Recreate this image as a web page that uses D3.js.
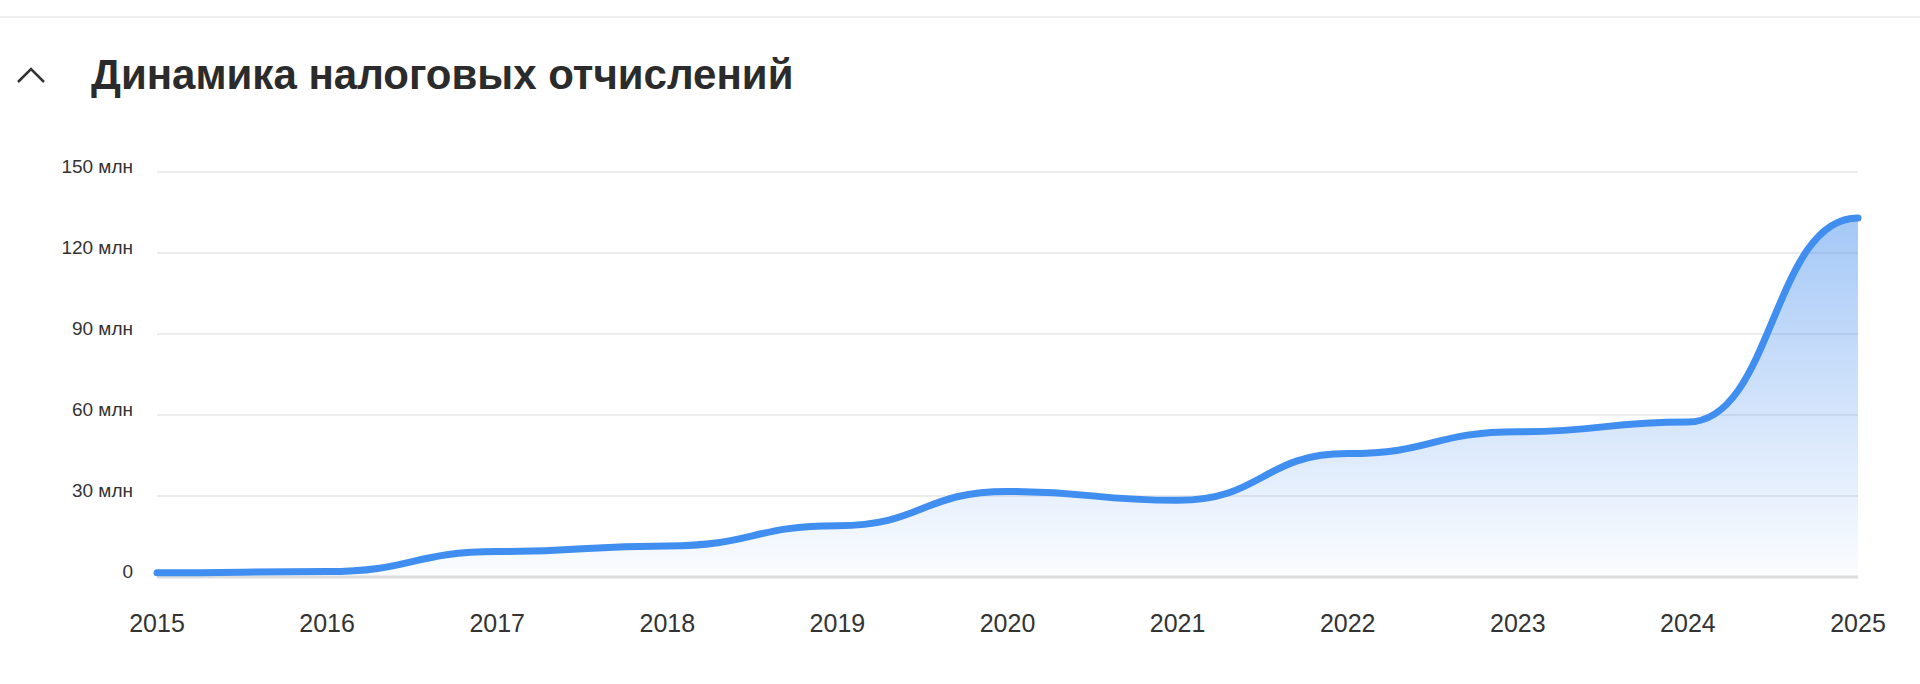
<!DOCTYPE html>
<html><head><meta charset="utf-8">
<script src="https://cdn.jsdelivr.net/npm/d3@7"></script>
<style>body{margin:0;background:#fff;font-family:"Liberation Sans",Arial,sans-serif}</style>
</head><body><svg id="c" width="1920" height="684"></svg>
<script>
const years = [2015,2016,2017,2018,2019,2020,2021,2022,2023,2024,2025];
const values = [1.6,2,9.4,11.5,19,31.7,28.4,45.7,53.8,57.4,133];
const yTicks = [0,30,60,90,120,150];
const title = "Динамика налоговых отчислений";

const svg = d3.select("#c");
svg.append("line").attr("x1",0).attr("x2",1920).attr("y1",17).attr("y2",17).attr("stroke","#eeeeee").attr("stroke-width",2);
svg.append("path").attr("d","M18,82 L31,69 L44,82").attr("fill","none").attr("stroke","#333").attr("stroke-width",2.5);
svg.append("text").attr("x",91).attr("y",89).attr("font-size",42).attr("font-weight","bold").attr("fill","#2b2b2b").text(title);

const x = d3.scalePoint().domain(years).range([157,1858]);
const y = d3.scaleLinear().domain([0,150]).range([577,172]);

const defs = svg.append("defs");
const g = defs.append("linearGradient").attr("id","gr").attr("x1",0).attr("x2",0).attr("y1",0).attr("y2",1);
g.append("stop").attr("offset","0%").attr("stop-color","#4a90ee").attr("stop-opacity",0.5);
g.append("stop").attr("offset","100%").attr("stop-color","#4a90ee").attr("stop-opacity",0.02);

svg.append("g").selectAll("line").data(yTicks).join("line")
  .attr("x1",157).attr("x2",1858).attr("y1",d=>y(d)).attr("y2",d=>y(d))
  .attr("stroke",d=>d===0?"#dddddd":"#e6e6e6").attr("stroke-width",d=>d===0?3:1.5);
svg.append("g").selectAll("text").data(yTicks).join("text")
  .attr("x",133).attr("y",d=>y(d)+1).attr("text-anchor","end").attr("font-size",19).attr("fill","#333")
  .text(d=>d===0?"0":d+" млн");
svg.append("g").selectAll("text").data(years).join("text")
  .attr("x",d=>x(d)).attr("y",632).attr("text-anchor","middle").attr("font-size",25).attr("fill","#333")
  .text(d=>d);

const data = years.map((yr,i)=>({yr,v:values[i]}));
svg.append("path").datum(data).attr("fill","url(#gr)")
  .attr("d",d3.area().x(d=>x(d.yr)).y0(y(0)).y1(d=>y(d.v)).curve(d3.curveBumpX));
svg.append("path").datum(data).attr("fill","none").attr("stroke","#3f8ef0").attr("stroke-width",7).attr("stroke-linecap","round")
  .attr("d",d3.line().x(d=>x(d.yr)).y(d=>y(d.v)).curve(d3.curveBumpX));
</script></body></html>
